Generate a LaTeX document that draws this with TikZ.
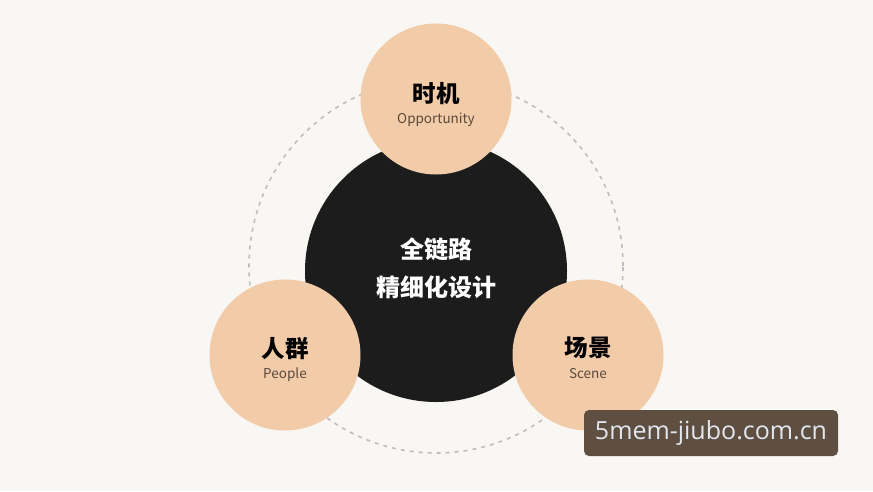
\documentclass[tikz,border=0pt]{standalone}
\usepackage{fontspec}
\setmainfont{Noto Sans CJK SC}
\newfontfamily\cjk{Noto Sans CJK SC}
\newfontfamily\wm{Open Sans}
\definecolor{bgc}{HTML}{F9F7F3}
\definecolor{peach}{HTML}{F2CBA8}
\definecolor{darkc}{HTML}{1C1C1C}
\definecolor{subc}{HTML}{5A4A3E}
\definecolor{dashc}{HTML}{BEBEC2}
\definecolor{wmbg}{HTML}{5E4F41}
\definecolor{wmtx}{HTML}{E2E6F0}
\begin{document}
\begin{tikzpicture}[x=1pt,y=-1pt,
  peachcirc/.style={circle,fill=peach,minimum size=151pt,inner sep=0pt},
  titletext/.style={font=\cjk\bfseries\fontsize{23.5}{26}\selectfont,text=black},
  subtext/.style={font=\cjk\fontsize{13.5}{16}\selectfont,text=subc},
  centertext/.style={font=\cjk\bfseries\fontsize{24}{28}\selectfont,text=white,align=center}]
\fill[bgc] (0,0) rectangle (873,491);
\useasboundingbox (0,0) rectangle (873,491);
% dashed ring
\node (ring) [circle,draw=dashc,line width=1.6pt,dash pattern=on 4pt off 5pt,minimum size=374pt,inner sep=0pt] at (436,266) {};
% central black circle
\node (core) [circle,fill=darkc,minimum size=262pt,inner sep=0pt] at (436,271) {};
\node (coretxt) [centertext] at (436,268) {全链路\\[10pt]精细化设计};
% peach circles
\node (top) [peachcirc] at (436,99) {};
\node (left) [peachcirc] at (285,355) {};
\node (right) [peachcirc] at (588,355) {};
\node (toptitle) [titletext] at (436,94) {时机};
\node (topsub) [subtext] at (436,120) {Opportunity};
\node (lefttitle) [titletext] at (285,349) {人群};
\node (leftsub) [subtext] at (285,375) {People};
\node (righttitle) [titletext] at (588,348) {场景};
\node (rightsub) [subtext] at (588,374) {Scene};
% watermark
\node (wmark) [fill=wmbg,rounded corners=5pt,minimum width=254pt,minimum height=46pt,inner sep=0pt,font=\wm\fontsize{25}{28}\selectfont,text=wmtx] at (711,433) {5mem-jiubo.com.cn};
\end{tikzpicture}
\end{document}
